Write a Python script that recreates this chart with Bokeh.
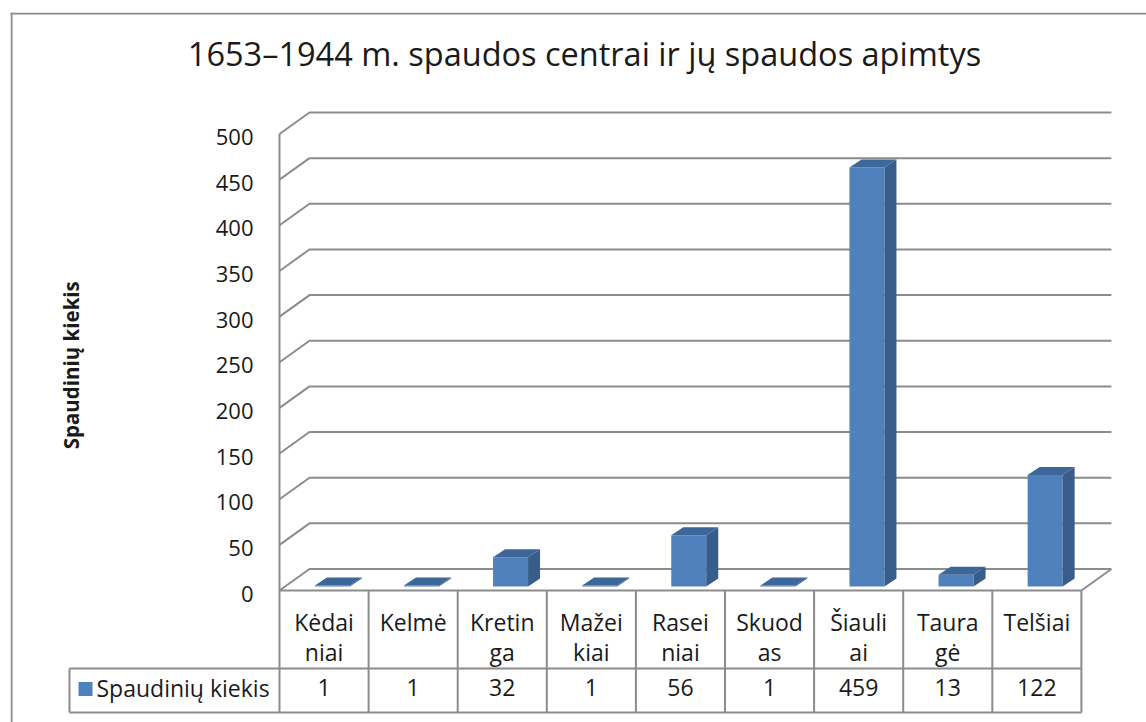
import math
from bokeh.plotting import figure
from bokeh.models import Range1d, Span
from bokeh.core.properties import value
from bokeh.embed import file_html
from bokeh.resources import INLINE

# ---------------- data ----------------
title_text = "1653–1944 m. spaudos centrai ir jų spaudos apimtys"
y_label = "Spaudinių kiekis"
series_name = "Spaudinių kiekis"
categories = ["Kėdai\nniai", "Kelmė", "Kretin\nga", "Mažei\nkiai", "Rasei\nniai",
              "Skuod\nas", "Šiauli\nai", "Taura\ngė", "Telšiai"]
values = [1, 1, 32, 1, 56, 1, 459, 13, 122]
y_ticks = [0, 50, 100, 150, 200, 250, 300, 350, 400, 450, 500]

# ---------------- style / geometry ----------------
FONT = "Open Sans"
TXT = "#1a1a1a"
GRID = "#8c8c8c"
FRONT = "#4f81bd"
SIDE = "#385d8a"
TOP = "#3d6699"

PX_X = 89.1    # pixels per category slot
PX_Y = 0.913   # pixels per value unit
WALL_DX = 30 / PX_X
WALL_DY = 21.5 / PX_Y
BAR_W = 35 / PX_X
BAR_SHIFT = 8.3 / PX_X
BAR_BASE = 4 / PX_Y
BAR_DX = 12 / PX_X
BAR_DY = 8 / PX_Y
ROW1 = -78 / PX_Y
ROW2 = -122 / PX_Y
LEG_X = -210 / PX_X
n = len(categories)

X0, X1 = -269 / PX_X, 867 / PX_X
Y0, Y1 = -132 / PX_Y, 578 / PX_Y

p = figure(width=1146, height=722,
           x_range=Range1d(X0, X1), y_range=Range1d(Y0, Y1),
           output_backend="svg", toolbar_location=None,
           x_axis_location=None, y_axis_location=None,
           min_border_left=10, min_border_top=12, min_border_right=0, min_border_bottom=0)
p.title.visible = False
p.grid.visible = False
p.outline_line_color = None
p.background_fill_color = "white"
p.border_fill_color = "white"

# outer chart border (left and top edges; right/bottom lie outside the view)
p.add_layout(Span(location=X0 + 1 / PX_X, dimension="height", line_color="#8a8a8a", line_width=2))
p.add_layout(Span(location=Y1 - 1 / PX_Y, dimension="width", line_color="#8a8a8a", line_width=2))

# ---- gridlines (wall) ----
top_v = y_ticks[-1]
p.multi_line(xs=[[0, WALL_DX, n + WALL_DX] for v in y_ticks],
             ys=[[v, v + WALL_DY, v + WALL_DY] for v in y_ticks],
             line_color=GRID, line_width=2)
# front vertical axis line
p.segment(x0=[0], y0=[0], x1=[0], y1=[top_v], line_color=GRID, line_width=2)
# floor right diagonal
p.segment(x0=[n], y0=[0], x1=[n + WALL_DX], y1=[WALL_DY], line_color=GRID, line_width=2)

# ---- bars ----
lefts = [i + 0.5 + BAR_SHIFT - BAR_W / 2 for i in range(n)]
rights = [l + BAR_W for l in lefts]
tops = [BAR_BASE + v for v in values]
p.quad(left=lefts, right=rights, bottom=[BAR_BASE] * n, top=tops,
       fill_color=FRONT, line_color=None)
p.patches(xs=[[r, r + BAR_DX, r + BAR_DX, r] for r in rights],
          ys=[[BAR_BASE, BAR_BASE + BAR_DY, t + BAR_DY, t] for t in tops],
          fill_color=SIDE, line_color=None)
p.patches(xs=[[l, l + BAR_DX, r + BAR_DX, r] for l, r in zip(lefts, rights)],
          ys=[[t, t + BAR_DY, t + BAR_DY, t] for t in tops],
          fill_color=TOP, line_color=None)

# ---- data table ----
p.multi_line(xs=[[0, n], [LEG_X, n], [LEG_X, n]], ys=[[0, 0], [ROW1, ROW1], [ROW2, ROW2]],
             line_color=GRID, line_width=2)
p.segment(x0=list(range(n + 1)), y0=[0] * (n + 1), x1=list(range(n + 1)), y1=[ROW2] * (n + 1),
          line_color=GRID, line_width=2)
p.segment(x0=[LEG_X], y0=[ROW1], x1=[LEG_X], y1=[ROW2], line_color=GRID, line_width=2)

centers = [i + 0.5 for i in range(n)]
line1 = [c.split("\n")[0] for c in categories]
line2 = [c.split("\n")[1] if "\n" in c else "" for c in categories]
common = dict(text_font=value(FONT), text_color=TXT, text_align="center",
              text_baseline="alphabetic", text_font_size="23px")
p.text(x=centers, y=[0] * n, text=line1, y_offset=31, **common)
p.text(x=centers, y=[0] * n, text=line2, y_offset=61, **common)
p.text(x=centers, y=[ROW1] * n, text=[str(v) for v in values], y_offset=19, **common)

# legend key in table
p.scatter(x=[LEG_X + 16 / PX_X], y=[ROW1 - 20.5 / PX_Y], marker="square", size=14,
          fill_color=FRONT, line_color=None)
p.text(x=[LEG_X], y=[ROW1], text=[series_name], x_offset=27, y_offset=19,
       text_font=value(FONT), text_color=TXT, text_align="left",
       text_baseline="alphabetic", text_font_size="23px")

# ---- y tick labels ----
p.text(x=[0] * len(y_ticks), y=y_ticks, text=[str(t) for t in y_ticks],
       x_offset=-26, y_offset=3, text_font=value(FONT), text_color=TXT,
       text_align="right", text_baseline="middle", text_font_size="22px")

# ---- y axis title ----
p.text(x=[LEG_X], y=[top_v / 2], text=[y_label], x_offset=1, y_offset=3,
       angle=math.pi / 2, text_font=value(FONT), text_color=TXT, text_font_style="bold",
       text_align="center", text_baseline="middle", text_font_size="20.5px")

# ---- chart title ----
p.text(x=[0], y=[top_v], text=[title_text], x_offset=305, y_offset=-81,
       text_font=value(FONT), text_color=TXT, text_align="center",
       text_baseline="alphabetic", text_font_size="32.5px")

open("out.html", "w").write(file_html(p, INLINE))
